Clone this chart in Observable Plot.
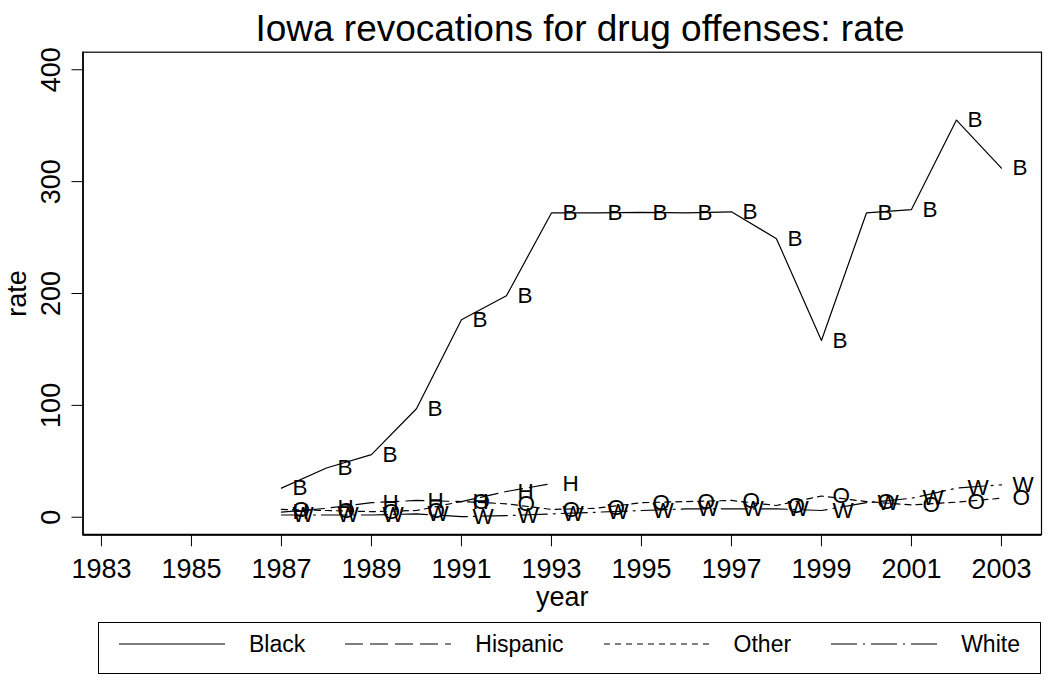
<!DOCTYPE html>
<html>
<head>
<meta charset="utf-8">
<script src="https://cdn.jsdelivr.net/npm/d3@7"></script>
<script src="https://cdn.jsdelivr.net/npm/@observablehq/plot@0.6"></script>
<style>
  body { margin: 0; background: #fff; font-family: "Liberation Sans", Arial, sans-serif; color: #000; }
  #wrap { position: relative; width: 1055px; height: 679px; overflow: hidden; background: #fff; }
  #title { position: absolute; z-index: 2; left: 100px; width: 960px; top: 10px; text-align: center; font-size: 37px; line-height: 37px; white-space: nowrap; }
  #chart { position: absolute; z-index: 1; left: 0; top: 44px; }
  #legend { position: absolute; z-index: 2; left: 98px; top: 622px; width: 943px; height: 52px; border: 1px solid #000; box-sizing: border-box;
            display: flex; align-items: flex-start; padding-top: 8px; justify-content: space-around; font-size: 23px; line-height: 26px; }
  .item { display: flex; align-items: center; }
  .item svg { margin-right: 24px; }
</style>
</head>
<body>
<div id="wrap">
  <div id="title">Iowa revocations for drug offenses: rate</div>
  <div id="chart"></div>
  <div id="legend"></div>
</div>
<script>
// ---- data ----
const years = [1987, 1988, 1989, 1990, 1991, 1992, 1993, 1994, 1995, 1996, 1997, 1998, 1999, 2000, 2001, 2002, 2003];
const black = [26, 44, 56, 97, 176.5, 198, 272, 272, 272.5, 272, 273, 249, 158, 272, 275, 355, 312];
const hispanicYears = [1987, 1988, 1989, 1990, 1991, 1992, 1993];
const hispanic = [4.5, 8, 13, 15, 14, 23, 30];
const other = [7, 6, 5, 6, 14, 12, 7, 8, 13, 14, 15, 10.5, 19, 14, 11, 13.5, 17];
const white = [2, 2, 2, 3, 0.5, 1.5, 3, 4.5, 6, 7.5, 7.5, 7.5, 6, 13, 17, 26, 29];
const seriesNames = ["Black", "Hispanic", "Other", "White"];
const seriesLetters = ["B", "H", "O", "W"];
const seriesDash = [null, "18,7", "6,5", "26,6,2,6"];
const xTicks = [1983, 1985, 1987, 1989, 1991, 1993, 1995, 1997, 1999, 2001, 2003];
const yTicks = [0, 100, 200, 300, 400];
const xDomain = [1982.59, 2003.89];
const yDomain = [-15.7, 415.7];

// ---- build table ----
const rows = [];
const addSeries = (yrs, vals, i) => yrs.forEach((yr, k) => rows.push({year: yr, value: vals[k], series: seriesNames[i], letter: seriesLetters[i]}));
addSeries(years, black, 0);
addSeries(hispanicYears, hispanic, 1);
addSeries(years, other, 2);
addSeries(years, white, 3);

const font = '"Liberation Sans", Arial, sans-serif';
const lineMarks = seriesNames.map((name, i) =>
  Plot.line(rows.filter(d => d.series === name), {
    x: "year", y: "value", stroke: "#000", strokeWidth: 1.2,
    strokeDasharray: seriesDash[i] || undefined
  })
);

const chart = Plot.plot({
  width: 1055,
  height: 575,
  marginLeft: 82.5,
  marginRight: 14,
  marginTop: 7.7,
  marginBottom: 84.7,
  style: { fontFamily: font, background: "#fff", color: "#000", overflow: "visible" },
  x: { domain: xDomain },
  y: { domain: yDomain },
  marks: [
    Plot.frame({ stroke: "#000", strokeWidth: 1.2 }),
    Plot.ruleY([yDomain[0]], { stroke: "#000", strokeWidth: 2 }),
    Plot.ruleX([xDomain[0]], { stroke: "#000", strokeWidth: 1.6 }),
    Plot.axisX({ ticks: xTicks, tickFormat: d => String(d), tickSize: 12, tickPadding: 12, fontSize: 27,
                 label: "year", labelAnchor: "center", labelArrow: "none", labelOffset: 71 }),
    Plot.axisY({ ticks: yTicks, tickSize: 11, tickRotate: -90, tickPadding: 12, fontSize: 27,
                 label: "rate", labelAnchor: "center", labelArrow: "none", labelOffset: 76 }),
    ...lineMarks,
    Plot.text(rows, { x: "year", y: "value", text: "letter", dx: 11, textAnchor: "start", lineAnchor: "middle",
                      fontSize: 22.5, fill: "#000" })
  ]
});
document.getElementById("chart").appendChild(chart);

// ---- legend ----
const legend = d3.select("#legend");
seriesNames.forEach((name, i) => {
  const item = legend.append("div").attr("class", "item");
  const svg = item.append("svg").attr("width", 106).attr("height", 10);
  svg.append("line").attr("x1", 0).attr("x2", 106).attr("y1", 5).attr("y2", 5)
     .attr("stroke", "#000").attr("stroke-width", 1.2)
     .attr("stroke-dasharray", seriesDash[i]);
  item.append("span").text(name);
});
</script>
</body>
</html>
